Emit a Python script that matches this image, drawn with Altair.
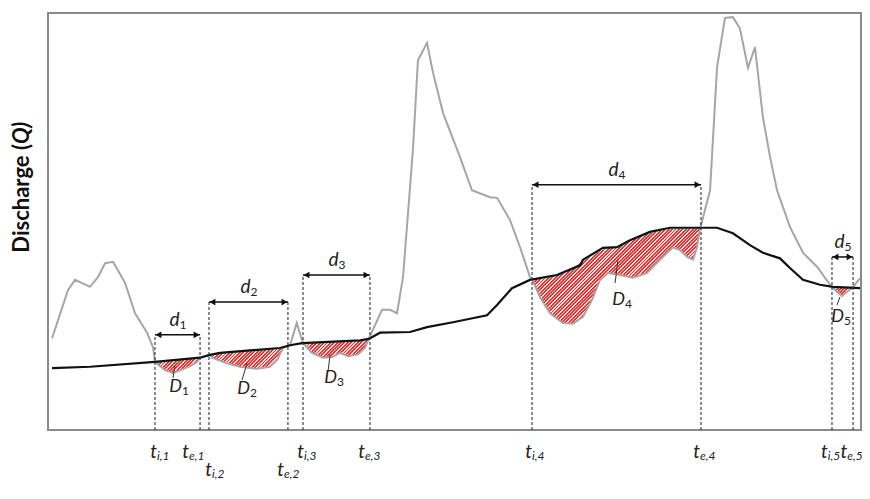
import altair as alt
import pandas as pd

# ---------------- data ----------------
# discharge Q (grey)
q_x = [0.29, 1.43, 1.94, 3.01, 3.58, 4.09, 4.66, 5.52, 6.24, 7.10, 7.53, 7.67,
       8.03, 8.39, 8.96, 9.46, 10.18, 10.68, 10.90, 11.25, 11.61, 11.76,
       12.83, 13.76, 14.98, 15.91, 16.42, 16.85, 17.35, 17.83, 18.28,
       18.92, 19.71, 20.36, 20.93, 21.51, 22.22, 22.72, 23.00,
       23.94, 24.52, 25.02, 25.45, 26.16, 26.52, 27.17, 27.60, 28.32, 29.53, 30.39,
       31.68, 32.19, 33.12, 33.84, 34.55,
       34.70, 35.27, 35.99, 36.92, 37.63, 38.35, 38.99, 39.57, 40.14, 41.00, 41.94,
       42.94, 43.87, 44.80, 45.30, 45.81, 46.24, 46.52, 46.74,
       47.46, 47.96, 48.53, 49.10, 49.60, 50.18, 50.68, 51.25, 51.76, 52.26, 53.19,
       54.12, 55.13, 56.06, 56.20, 56.56, 56.92, 57.28, 57.63, 58.20]
q_y = [13.2, 20.1, 21.6, 20.6, 22.0, 24.0, 24.2, 21.2, 16.8, 14.0, 11.9, 9.8,
       9.2, 8.6, 8.2, 8.6, 9.2, 9.8, 10.4, 10.6, 10.8, 10.4,
       9.6, 9.1, 8.8, 9.1, 10.1, 11.8, 12.2, 15.4, 12.5,
       11.1, 10.4, 10.5, 11.1, 10.6, 10.9, 11.8, 13.1,
       17.3, 17.3, 16.8, 22.0, 40.3, 53.2, 55.7, 51.4, 45.6, 39.3, 34.5,
       33.5, 33.4, 30.2, 26.3, 22.0,
       21.7, 19.1, 16.8, 15.4, 15.3, 16.3, 18.7, 21.6, 22.6, 22.3, 21.9,
       22.6, 24.5, 26.3, 25.9, 24.9, 24.5, 26.3, 28.9,
       34.5, 52.2, 59.3, 59.4, 57.8, 52.1, 55.1, 45.0, 39.3, 34.5, 29.2,
       25.5, 23.5, 20.9, 20.6, 19.9, 19.3, 19.9, 20.4, 21.8]

# threshold (black)
thr_x = [0.29, 3.01, 7.67, 10.90, 11.61, 12.33, 16.63, 17.35, 18.21, 22.37, 23.00,
         23.80, 25.95, 27.17, 29.03, 31.47, 32.19, 33.26, 34.55, 36.49, 38.14, 38.35,
         39.78, 40.79, 41.72, 43.15, 44.59, 47.96, 49.10, 50.32, 51.25, 52.47, 53.19,
         54.12, 55.34, 56.27, 58.21]
thr_y = [8.9, 9.1, 9.8, 10.4, 10.8, 11.1, 11.8, 12.2, 12.5, 12.9, 13.1,
         14.0, 14.1, 14.8, 15.5, 16.5, 18.0, 20.4, 21.6, 22.3, 23.7, 24.5,
         26.2, 26.3, 27.3, 28.5, 29.1, 29.1, 28.3, 26.6, 25.5, 24.7, 23.3,
         21.6, 20.9, 20.6, 20.4]

# drought deficit areas (Q below threshold)
d1_x = [7.67, 8.03, 8.39, 8.96, 9.46, 10.18, 10.68, 10.90]
d1_low = [9.8, 9.2, 8.6, 8.2, 8.6, 9.2, 9.8, 10.4]
d1_high = [9.8, 9.85, 9.9, 10.0, 10.1, 10.2, 10.3, 10.4]
d2_x = [11.61, 11.76, 12.83, 13.76, 14.98, 15.91, 16.42, 16.85]
d2_low = [10.8, 10.4, 9.6, 9.1, 8.8, 9.1, 10.1, 11.8]
d2_high = [10.8, 10.9, 11.15, 11.3, 11.5, 11.6, 11.7, 11.8]
d3_x = [18.28, 18.92, 19.71, 20.36, 20.93, 21.51, 22.22, 22.72, 23.00]
d3_low = [12.5, 11.1, 10.4, 10.5, 11.1, 10.6, 10.9, 11.8, 13.1]
d3_high = [12.5, 12.55, 12.6, 12.65, 12.7, 12.75, 12.85, 12.95, 13.1]
d4_x = [34.70, 35.27, 35.99, 36.92, 37.63, 38.35, 38.99, 39.57, 40.14, 41.00,
        41.94, 42.94, 43.87, 44.80, 45.30, 45.81, 46.24, 46.52, 46.74]
d4_low = [21.7, 19.1, 16.8, 15.4, 15.3, 16.3, 18.7, 21.6, 22.6, 22.3,
          21.9, 22.6, 24.5, 26.3, 25.9, 24.9, 24.5, 26.3, 28.9]
d4_high = [21.7, 21.9, 22.1, 22.6, 23.3, 24.3, 25.0, 25.8, 26.2, 26.4,
           27.4, 28.2, 28.7, 29.0, 29.0, 29.0, 29.0, 29.0, 29.0]
d5_x = [56.20, 56.56, 56.92, 57.28, 57.63]
d5_low = [20.6, 19.9, 19.3, 19.9, 20.4]
d5_high = [20.6, 20.55, 20.5, 20.45, 20.4]

# drought onset / end times and duration-arrow levels
t_start = [7.67, 11.54, 18.28, 34.70, 56.20]
t_end = [10.90, 17.20, 23.08, 46.81, 57.71]
arrow_level = [13.7, 18.4, 22.3, 35.3, 24.9]
d_names = ["1", "2", "3", "4", "5"]

# deficit-volume labels D_k and their leader lines
D_lab_x = [9.61, 14.48, 20.72, 41.36, 57.06]
D_lab_y = [5.47, 5.18, 6.76, 17.99, 15.54]
lead_x1 = [8.96, 13.91, 20.07, 40.65, 56.56]
lead_y1 = [7.48, 7.19, 8.35, 21.15, 17.99]
lead_x2 = [9.10, 14.27, 20.22, 40.86, 56.77]
lead_y2 = [9.21, 9.64, 10.79, 24.46, 19.14]

# time labels below the axis
t_lab_x = [7.81, 10.11, 11.76, 16.92, 18.35, 22.72, 34.70, 46.74, 55.90, 57.30]
t_lab_y = [-4.0, -4.0, -6.6, -6.6, -4.0, -4.0, -4.0, -4.0, -4.0, -4.0]
t_lab_sub = ["i,1", "e,1", "i,2", "e,2", "i,3", "e,3", "i,4", "e,4", "i,5", "e,5"]

# ---------------- chart ----------------
W, H = 813, 417
XMAX, YMAX = 58.28, 60
PX, PY = W / XMAX, H / YMAX
FONT = "Lato"
xs = alt.Scale(domain=[0, XMAX], nice=False, zero=False)
ys = alt.Scale(domain=[0, YMAX], nice=False, zero=False)

RED, LIGHT = "#ee2f2f", "#fde0e0"


def hatch(xv, lo, hi):
    w = (max(xv) - min(xv)) * PX
    h = (max(hi) - min(lo)) * PY
    s = w * (w + h) / (w * w + h * h)
    n = max(2, round((w + h) / 3.4))
    stops = []
    for k in range(n):
        a, b, c = k / n, (k + 0.55) / n, (k + 1) / n
        stops += [alt.GradientStop(offset=a, color=RED),
                  alt.GradientStop(offset=b, color=RED),
                  alt.GradientStop(offset=b, color=LIGHT),
                  alt.GradientStop(offset=c, color=LIGHT)]
    return alt.LinearGradient(gradient="linear", stops=stops,
                              x1=0, y1=0, x2=s, y2=s * h / w)


layers = []

# grid carrier
qdf = pd.DataFrame({"x": q_x, "y": q_y})
tdf = pd.DataFrame({"x": thr_x, "y": thr_y})
grid_layer = alt.Chart(qdf).mark_line(opacity=0).encode(
    x=alt.X("x:Q", scale=xs, axis=alt.Axis(values=[10, 20, 30, 40, 50], grid=True, labels=False,
                                           ticks=False, domain=False, title=None,
                                           gridColor="#d9d9d9", gridWidth=1)),
    y=alt.Y("y:Q", scale=ys, axis=alt.Axis(values=[10, 20, 30, 40, 50], grid=True, labels=False,
                                           ticks=False, domain=False, title=None,
                                           gridColor="#d9d9d9", gridWidth=1)),
)
layers.append(grid_layer)

for xv, lo, hi in [(d1_x, d1_low, d1_high), (d2_x, d2_low, d2_high), (d3_x, d3_low, d3_high),
                   (d4_x, d4_low, d4_high), (d5_x, d5_low, d5_high)]:
    df = pd.DataFrame({"x": xv, "lo": lo, "hi": hi})
    layers.append(alt.Chart(df).mark_area(color=hatch(xv, lo, hi), opacity=1).encode(
        x=alt.X("x:Q", scale=xs, axis=None),
        y=alt.Y("lo:Q", scale=ys, axis=None),
        y2="hi:Q"))

layers.append(alt.Chart(qdf).mark_line(color="#a6a6a6", strokeWidth=2).encode(
    x=alt.X("x:Q", scale=xs, axis=None), y=alt.Y("y:Q", scale=ys, axis=None)))
layers.append(alt.Chart(tdf).mark_line(color="#111111", strokeWidth=2.2).encode(
    x=alt.X("x:Q", scale=xs, axis=None), y=alt.Y("y:Q", scale=ys, axis=None)))

ev = pd.DataFrame({"ts": t_start, "te": t_end, "lev": arrow_level, "name": d_names,
                   "mid": [(a + b) / 2 for a, b in zip(t_start, t_end)], "zero": [0] * 5})
# dashed verticals
for col in ["ts", "te"]:
    layers.append(alt.Chart(ev).mark_rule(color="#333333", strokeWidth=1.1, strokeDash=[3, 2]).encode(
        x=alt.X(f"{col}:Q", scale=xs, axis=None),
        y=alt.Y("zero:Q", scale=ys, axis=None), y2="lev:Q"))
# arrows
layers.append(alt.Chart(ev).mark_rule(color="#111111", strokeWidth=1.5).encode(
    x=alt.X("ts:Q", scale=xs, axis=None), x2="te:Q", y=alt.Y("lev:Q", scale=ys, axis=None)))
layers.append(alt.Chart(ev).mark_point(shape="triangle-left", filled=True, size=45, color="#111111",
                                       opacity=1, xOffset=3.5).encode(
    x=alt.X("ts:Q", scale=xs, axis=None), y=alt.Y("lev:Q", scale=ys, axis=None)))
layers.append(alt.Chart(ev).mark_point(shape="triangle-right", filled=True, size=45, color="#111111",
                                       opacity=1, xOffset=-3.5).encode(
    x=alt.X("te:Q", scale=xs, axis=None), y=alt.Y("lev:Q", scale=ys, axis=None)))
# d labels
layers.append(alt.Chart(ev).mark_text(font=FONT, fontSize=19, fontStyle="italic", align="right",
                                      baseline="alphabetic", dx=2, dy=-9, color="#222").encode(
    x=alt.X("mid:Q", scale=xs, axis=None), y=alt.Y("lev:Q", scale=ys, axis=None), text=alt.value("d")))
layers.append(alt.Chart(ev).mark_text(font=FONT, fontSize=12, align="left",
                                      baseline="alphabetic", dx=2, dy=-6, color="#222").encode(
    x=alt.X("mid:Q", scale=xs, axis=None), y=alt.Y("lev:Q", scale=ys, axis=None), text="name:N"))

# D labels
Ddf = pd.DataFrame({"x": D_lab_x, "y": D_lab_y, "name": d_names,
                    "x1": lead_x1, "y1": lead_y1, "x2": lead_x2, "y2": lead_y2})
layers.append(alt.Chart(Ddf).mark_rule(color="#333333", strokeWidth=1).encode(
    x=alt.X("x1:Q", scale=xs, axis=None), y=alt.Y("y1:Q", scale=ys, axis=None), x2="x2:Q", y2="y2:Q"))
layers.append(alt.Chart(Ddf).mark_text(font=FONT, fontSize=18, fontStyle="italic", align="right",
                                       baseline="alphabetic", color="#222").encode(
    x=alt.X("x:Q", scale=xs, axis=None), y=alt.Y("y:Q", scale=ys, axis=None), text=alt.value("D")))
layers.append(alt.Chart(Ddf).mark_text(font=FONT, fontSize=12, align="left",
                                       baseline="alphabetic", dy=3, color="#222").encode(
    x=alt.X("x:Q", scale=xs, axis=None), y=alt.Y("y:Q", scale=ys, axis=None), text="name:N"))

# t labels
tl = pd.DataFrame({"x": t_lab_x, "y": t_lab_y, "sub": t_lab_sub})
layers.append(alt.Chart(tl).mark_text(font=FONT, fontSize=19, fontStyle="italic", align="right",
                                      baseline="alphabetic", color="#222").encode(
    x=alt.X("x:Q", scale=xs, axis=None), y=alt.Y("y:Q", scale=ys, axis=None), text=alt.value("t")))
layers.append(alt.Chart(tl).mark_text(font=FONT, fontSize=12, fontStyle="italic", align="left",
                                      baseline="alphabetic", dy=2, color="#222").encode(
    x=alt.X("x:Q", scale=xs, axis=None), y=alt.Y("y:Q", scale=ys, axis=None), text="sub:N"))

# y-axis title "Discharge (Q)"
yt = pd.DataFrame({"x": [-1.35], "y": [41.15]})
layers.append(alt.Chart(yt).mark_text(font=FONT, fontSize=22, fontWeight="bold", angle=270,
                                      align="right", baseline="alphabetic", color="#111").encode(
    x=alt.X("x:Q", scale=xs, axis=None), y=alt.Y("y:Q", scale=ys, axis=None),
    text=alt.value("Discharge (")))
layers.append(alt.Chart(yt).mark_text(font=FONT, fontSize=22, fontWeight="bold", fontStyle="italic",
                                      angle=270, align="left", baseline="alphabetic", color="#111").encode(
    x=alt.X("x:Q", scale=xs, axis=None), y=alt.Y("y:Q", scale=ys, axis=None),
    text=alt.value("Q)")))

chart = alt.layer(*layers).properties(
    width=W, height=H,
    padding={"left": 40, "top": 5, "right": 1, "bottom": 56},
    autosize=alt.AutoSizeParams(type="none"),
    background="white",
).configure_view(stroke="#8a8a8a", strokeWidth=2)

chart.save("out.html", embed_options={"renderer": "svg", "actions": False})
